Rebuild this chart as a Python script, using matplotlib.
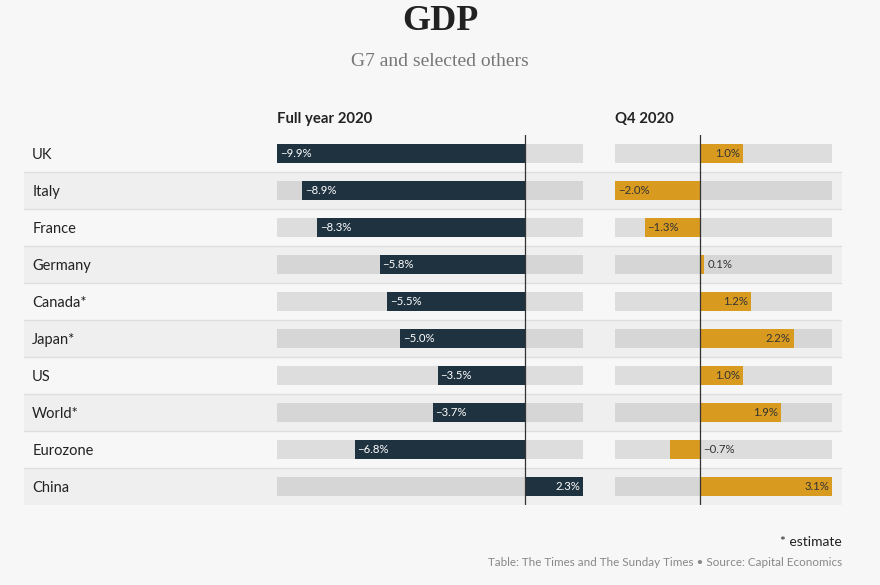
import numpy as np
import matplotlib
matplotlib.use('Agg')
import matplotlib.pyplot as plt

# data
countries = ['UK', 'Italy', 'France', 'Germany', 'Canada*', 'Japan*', 'US', 'World*', 'Eurozone', 'China']
full_year = [-9.9, -8.9, -8.3, -5.8, -5.5, -5.0, -3.5, -3.7, -6.8, 2.3]
q4 = [1.0, -2.0, -1.3, 0.1, 1.2, 2.2, 1.0, 1.9, -0.7, 3.1]
full_range = (-9.9, 2.3)
q4_range = (-2.0, 3.1)

W, H = 880, 585
BG = '#f7f7f7'
STRIPE = '#efefef'
SEP = '#dedede'
NAVY = '#1e3240'
GOLD = '#d89b20'
SANS = ['Lato', 'DejaVu Sans']
SERIF = ['Liberation Serif', 'DejaVu Serif']

plt.rcParams['font.family'] = SANS

fig = plt.figure(figsize=(W / 100, H / 100), dpi=100, facecolor=BG)


def px_axes(x0, x1, y0, y1):
    # axes placed by pixel box (top-left origin)
    ax = fig.add_axes([x0 / W, 1 - y1 / H, (x1 - x0) / W, (y1 - y0) / H])
    ax.set_axis_off()
    return ax


def fmt(v):
    return ('%.1f%%' % v).replace('-', '\u2212')


n = len(countries)
rows = np.arange(n)
TOP, BOTTOM = 135, 505

# row stripes, separators, country names
bg = px_axes(24, 842, TOP, BOTTOM)
bg.set_xlim(0, 1)
bg.set_ylim(n - 0.5, -0.5)
for i in rows:
    if i % 2 == 1:
        bg.axhspan(i - 0.5, i + 0.5, color=STRIPE, lw=0)
    if i < n - 1:
        bg.axhline(i + 0.5, color=SEP, lw=1)
    bg.text(0.01, i + 0.03, countries[i], va='center', ha='left', fontsize=10.5, color='#222222')


def panel(x0, x1, values, lim, color, txt_color, header, small=0.0):
    ax = px_axes(x0, x1, TOP, BOTTOM)
    ax.set_xlim(*lim)
    ax.set_ylim(n - 0.5, -0.5)
    ax.barh(rows, lim[1] - lim[0], left=lim[0], height=0.54, color='black', alpha=0.1, lw=0)
    ax.barh(rows, values, height=0.54, color=color, lw=0)
    ax.axvline(0, color='#333333', lw=0.9)
    for i, v in enumerate(values):
        if abs(v) < small:
            ax.annotate(fmt(v), (max(v, 0), i), xytext=(2.5, 0), textcoords='offset points',
                        ha='left', va='center', fontsize=8.2, color='#333333')
        elif v < 0:
            ax.annotate(fmt(v), (v, i), xytext=(2, 0), textcoords='offset points',
                        ha='left', va='center', fontsize=8.2, color=txt_color)
        else:
            ax.annotate(fmt(v), (v, i), xytext=(-2, 0), textcoords='offset points',
                        ha='right', va='center', fontsize=8.2, color=txt_color)
    ax.annotate(header, (0, 1), xycoords='axes fraction', xytext=(0, 6.5),
                textcoords='offset points', ha='left', va='bottom',
                fontsize=10.7, fontweight='bold', color='#222222')
    return ax


panel(277, 583, full_year, full_range, NAVY, 'white', 'Full year 2020')
panel(615, 832, q4, q4_range, GOLD, '#333333', 'Q4 2020', small=0.9)

fig.text(0.5, 1 - 22 / H, 'GDP', ha='center', va='center', fontsize=26,
         fontweight='bold', family=SERIF, color='#222222')
fig.text(0.5, 1 - 61 / H, 'G7 and selected others', ha='center', va='center',
         fontsize=14, family=SERIF, color='#777777')

fig.text(842 / W, 1 - 542 / H, '* estimate', ha='right', va='center', fontsize=10, color='#222222')
fig.text(842 / W, 1 - 563 / H,
         'Table: The Times and The Sunday Times \u2022 Source: Capital Economics',
         ha='right', va='center', fontsize=8.4, color='#888888')

fig.savefig('out.png', dpi=100, facecolor=BG)
